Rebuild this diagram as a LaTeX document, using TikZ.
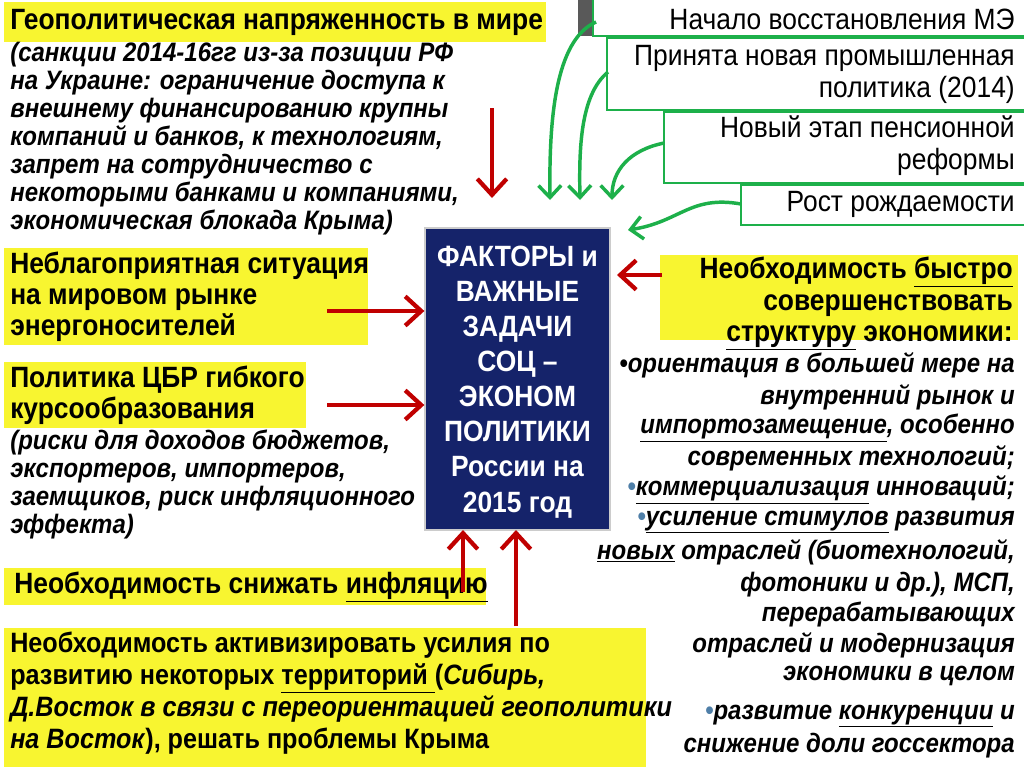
\documentclass[tikz,border=0pt]{standalone}
\usepackage{fontspec}
\setmainfont[FakeStretch=0.9]{Liberation Sans}
\usetikzlibrary{arrows.meta}
\definecolor{yel}{HTML}{F8F530}
\definecolor{navy}{HTML}{15236A}
\definecolor{rd}{HTML}{C00000}
\definecolor{gr}{HTML}{1DB04A}
\definecolor{bul}{HTML}{4F7FA8}
\newcommand{\bl}{\textcolor{bul}{\textbullet}}
\begin{document}
\begin{tikzpicture}[x=0.75pt,y=-0.75pt,
  ybox/.style={fill=yel,draw=none},
  gbox/.style={fill=white,draw=gr,line width=1.6pt},
  txt/.style={inner sep=0pt,font=\fontsize{22}{21}\selectfont\bfseries},
  itx/.style={inner sep=0pt,font=\fontsize{20}{21}\selectfont\bfseries\itshape},
  rtx/.style={inner sep=0pt,font=\fontsize{22}{24}\selectfont,anchor=east},
  ctx/.style={inner sep=0pt,font=\fontsize{22}{26.3}\selectfont\bfseries,text=white,align=center},
  rar/.style={draw=rd,line width=3.2pt,-{Straight Barb[length=12pt,width=22pt,line width=3.2pt]}},
  gar/.style={draw=gr,line width=2.6pt,-{Straight Barb[length=9pt,width=17pt,line width=2.6pt]}}]
\useasboundingbox[fill=white] (0,0) rectangle (1024,767);
% top right boxes
\fill[gray!70!black] (578,0) rectangle (596,36);
\draw[gbox] (593,-5) rectangle (1030,36);
\draw[gbox] (607,38) rectangle (1030,110);
\draw[gbox] (664,112) rectangle (1030,183);
\draw[gbox] (741,185) rectangle (1030,225);
\node[rtx] (b1) at (1015,19) {Начало восстановления МЭ};
\node[rtx,align=right] (b2) at (1015,74) {Принята новая промышленная\\политика (2014)};
\node[rtx,align=right] (b3) at (1015,146) {Новый этап пенсионной\\реформы};
\node[rtx] (b4) at (1015,204) {Рост рождаемости};
% center
\node[fill=navy,draw=gray!40,line width=1pt,minimum width=185*0.75pt,minimum height=302*0.75pt] (c) at (517.5,379) {};
\node[ctx] (ct) at (517.5,382) {ФАКТОРЫ и\\ВАЖНЫЕ\\ЗАДАЧИ\\СОЦ –\\ЭКОНОМ\\ПОЛИТИКИ\\России на\\2015 год};
% top-left
\fill[ybox] (4,2) rectangle (546,42);
\node[txt,anchor=west] (t1) at (10,22) {Геополитическая напряженность в мире};
\node[itx,anchor=north west,align=left] (t2) at (10,42) {(санкции 2014-16гг из-за позиции РФ\\на Украине: ограничение доступа к\\внешнему финансированию крупны\\компаний и банков, к технологиям,\\запрет на сотрудничество с\\некоторыми банками и компаниями,\\экономическая блокада Крыма)};
% energy
\fill[ybox] (4,248) rectangle (368,345);
\node[txt,anchor=north west,align=left,font=\fontsize{22}{23}\selectfont\bfseries] (e) at (10,252) {Неблагоприятная ситуация\\на мировом рынке\\энергоносителей};
% CBR
\fill[ybox] (4,362) rectangle (306,428);
\node[txt,anchor=north west,align=left,font=\fontsize{22}{23}\selectfont\bfseries] (p) at (10,366) {Политика ЦБР гибкого\\курсообразования};
\node[itx,anchor=north west,align=left] (p2) at (10,430) {(риски для доходов бюджетов,\\экспортеров, импортеров,\\заемщиков,  риск инфляционного\\эффекта)};
% inflation
\fill[ybox] (4,568) rectangle (486,605);
\node[txt,anchor=west] (inf) at (14,587) {Необходимость снижать \underline{инфляцию}};
% bottom
\fill[ybox] (4,628) rectangle (646,767);
\node[txt,anchor=north west,align=left,font=\fontsize{21}{24}\selectfont\bfseries] (bt) at (10,632) {Необходимость активизировать усилия по\\развитию некоторых \underline{территорий }(\textit{Сибирь,}\\\textit{Д.Восток в связи с переориентацией геополитики}\\\textit{на Восток}), решать проблемы Крыма};
% right yellow
\fill[ybox] (660,255) rectangle (1018,340);
\node[txt,anchor=north east,align=right,font=\fontsize{22}{23.5}\selectfont\bfseries] (ry) at (1013,257) {Необходимость \underline{быстро}\\совершенствовать\\\underline{структуру} экономики:};
% right bullets
\begin{scope}[every node/.style={itx,anchor=east}]
\node (r1) at (1015,365) {•ориентация в большей мере на};
\node (r2) at (1015,397) {внутренний рынок и};
\node (r3) at (1015,428) {\underline{импортозамещение}, особенно};
\node (r4) at (1015,458) {современных технологий;};
\node (r5) at (1015,490) {\bl\underline{коммерциализация}  инноваций;};
\node (r6) at (1015,522) {\bl\underline{усиление стимулов} развития};
\node (r7) at (1015,552) {\underline{новых} отраслей (биотехнологий,};
\node (r8) at (1015,585) {фотоники и др.), МСП,};
\node (r9) at (1015,614) {перерабатывающих};
\node (r10) at (1015,645) {отраслей и модернизация};
\node (r11) at (1015,676) {экономики в целом};
\node (r12) at (1015,716) {\bl развитие \underline{конкуренции} и};
\node (r13) at (1015,746) {снижение доли госсектора};
\end{scope}
% red arrows
\coordinate (a1s) at (492,108); \coordinate (a1e) at (492,198);
\draw[rar] (a1s) -- (a1e);
\coordinate (a2s) at (327,311); \draw[rar] (a2s) -- (c.west |- 0,311);
\coordinate (a3s) at (327,405); \draw[rar] (a3s) -- (c.west |- 0,405);
\coordinate (a4s) at (463,592); \draw[rar] (a4s) -- (463,530);
\coordinate (a5s) at (516,626); \draw[rar] (a5s) -- (516,530);
\coordinate (a6s) at (662,275); \draw[rar] (a6s) -- (617,275);
% green arrows
\draw[gar] (596,22) .. controls (555,40) and (549,120) .. (550,200);
\draw[gar] (608,72) .. controls (580,95) and (579,150) .. (580,200);
\draw[gar] (664,143) .. controls (630,150) and (612,170) .. (612,200);
\draw[gar] (741,204) .. controls (690,195) and (680,222) .. (628,230);
\end{tikzpicture}
\end{document}
